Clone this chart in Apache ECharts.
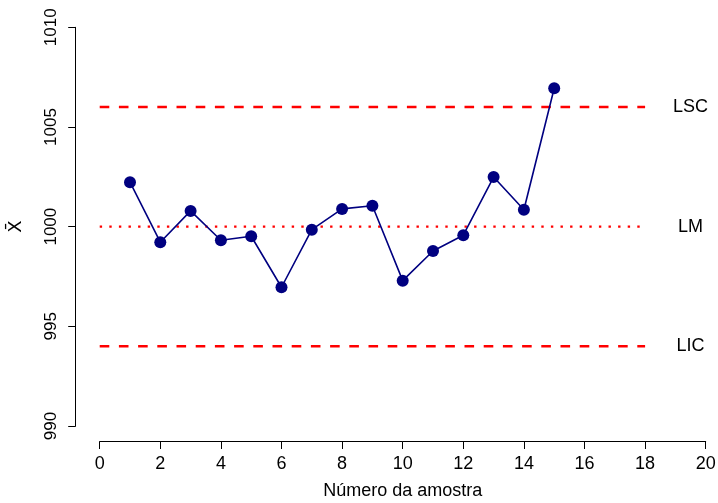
<!DOCTYPE html>
<html>
<head>
<meta charset="utf-8">
<script src="https://cdn.jsdelivr.net/npm/echarts@6/dist/echarts.min.js"></script>
<style>html,body{margin:0;padding:0;background:#fff}#c{width:718px;height:503px}</style>
</head>
<body>
<div id="c"></div>
<script>
const samples = [1,2,3,4,5,6,7,8,9,10,11,12,13,14,15];
const xbar = [1002.23,999.22,1000.79,999.32,999.52,996.96,999.85,1000.89,1001.05,997.29,998.78,999.57,1002.49,1000.85,1006.94];
const limitNames = ['LSC','LM','LIC'];
const limitValues = [1006,1000,994];
const limitStart = 0;
const limitEnd = 18;
const labelX = 19.5;
const xTicks = {min:0,max:20,interval:2};
const yTicks = {min:990,max:1010,interval:5};

const font = '"Liberation Sans", Arial, Helvetica, sans-serif';
const fs = 18;
const chart = echarts.init(document.getElementById('c'), null, {renderer:'canvas'});
const limitStyles = [
  {type:[9.6,9.6], width:2.4},
  {type:[2.4,7.2], width:2.4},
  {type:[9.6,9.6], width:2.4}
];
const series = [];
limitNames.forEach((n,i)=>{
  series.push({
    type:'line', name:n, silent:true, symbol:'none', z:1,
    data:[[limitStart,limitValues[i]],[limitEnd,limitValues[i]]],
    lineStyle:{color:'#ff0000', width:limitStyles[i].width, type:limitStyles[i].type, cap:'butt'}
  });
});
series.push({
  type:'scatter', silent:true, symbolSize:0, z:3,
  itemStyle:{color:'#000', opacity:1},
  data: limitNames.map((n,i)=>({value:[labelX,limitValues[i]], name:n})),
  label:{show:true, position:'inside', formatter:p=>p.name, color:'#000', opacity:1, textBorderWidth:0, fontSize:fs, fontFamily:font}
});
series.push({
  type:'line', name:'xbar', z:5,
  data: samples.map((s,i)=>[s,xbar[i]]),
  symbol:'circle', symbolSize:12,
  itemStyle:{color:'#000080'},
  lineStyle:{color:'#000080', width:1.6}
});

chart.setOption({
  animation:false,
  backgroundColor:'#fff',
  grid:{left:99.7, right:12.3, top:27.3, bottom:77, containLabel:false, outerBoundsMode:'none'},
  xAxis:{
    type:'value', min:xTicks.min, max:xTicks.max, interval:xTicks.interval, offset:15.5,
    name:'Número da amostra', nameLocation:'middle', nameGap:41, nameMoveOverlap:false,
    nameTextStyle:{color:'#000', fontSize:fs, fontFamily:font},
    axisLine:{show:true, onZero:false, lineStyle:{color:'#000', width:1}},
    axisTick:{show:true, length:7.5, lineStyle:{color:'#000'}},
    axisLabel:{color:'#000', fontSize:fs, fontFamily:font, margin:14, formatter:v=>String(v)},
    splitLine:{show:false}
  },
  yAxis:{
    type:'value', min:yTicks.min, max:yTicks.max, interval:yTicks.interval, offset:24,
    name:'X\u0304', nameLocation:'middle', nameGap:50, nameRotate:90, nameMoveOverlap:false,
    nameTextStyle:{color:'#000', fontSize:fs, fontFamily:'"DejaVu Sans", sans-serif'},
    axisLine:{show:true, onZero:false, lineStyle:{color:'#000', width:1}},
    axisTick:{show:true, length:7.5, lineStyle:{color:'#000'}},
    axisLabel:{color:'#000', fontSize:17, fontFamily:font, rotate:90, margin:16, formatter:v=>String(v)},
    splitLine:{show:false}
  },
  series: series
});
</script>
</body>
</html>
